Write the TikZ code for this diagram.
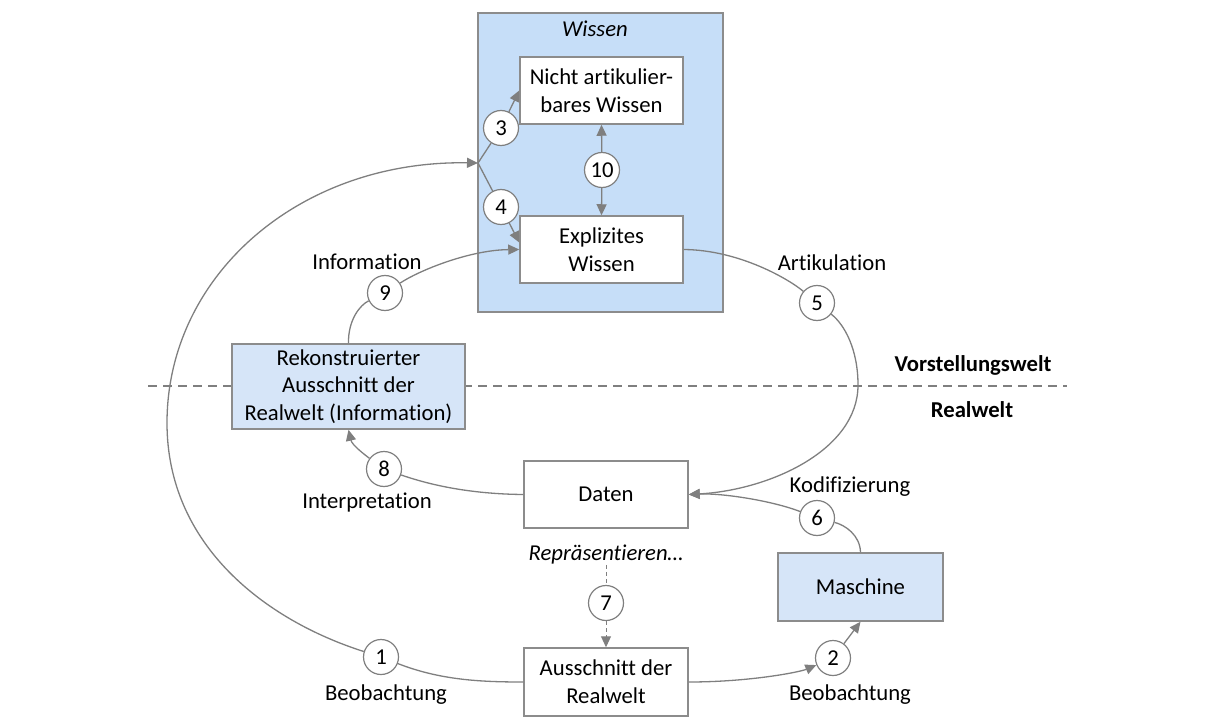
\documentclass[tikz,border=0pt]{standalone}
\usepackage{fontspec}
\setmainfont{Carlito}[Ligatures={NoCommon}]
\usetikzlibrary{arrows.meta}
\definecolor{linegray}{HTML}{7F7F7F}
\definecolor{boxgray}{HTML}{8C8C8C}
\definecolor{wissenblue}{HTML}{C6DEF8}
\definecolor{paleblue}{HTML}{D6E5F8}
\begin{document}
\begin{tikzpicture}[x=1pt,y=-1pt,
  every node/.style={font=\fontsize{22.7}{27.7}\selectfont, inner sep=0pt},
  box/.style={draw=boxgray, line width=1.5pt, fill=white, minimum width=163pt, minimum height=67pt, align=center},
  bluebox/.style={box, fill=paleblue},
  num/.style={circle, draw=linegray, line width=1.2pt, fill=white, minimum size=35pt},
  conn/.style={draw=linegray, line width=1.3pt},
  arr/.style={conn, -{Triangle[length=11pt,width=10pt]}},
  lbl/.style={align=center},
  divider/.style={draw=linegray, line width=1.3pt, dash pattern=on 9pt off 6pt},
  dotted link/.style={dash pattern=on 4pt off 3pt, line width=1pt}
]
\useasboundingbox (0,0) rectangle (1215,722);

% knowledge container
\node[draw=boxgray, line width=1.5pt, fill=wissenblue, minimum width=245pt, minimum height=299pt] (wissen) at (600.5,162.5) {};
\node[lbl, font=\fontsize{22.7}{27.7}\selectfont\itshape] (wlabel) at (595,29) {Wissen};

% border between the two worlds
\coordinate (dl) at (148,386);
\coordinate (dr) at (1067,386);
\draw[divider] (dl) -- (dr);
\node[lbl, font=\fontsize{22.7}{27.7}\selectfont\bfseries] (vw) at (973,365) {Vorstellungswelt};
\node[lbl, font=\fontsize{22.7}{27.7}\selectfont\bfseries] (rw) at (972,410) {Realwelt};

% boxes
\node[box] (nicht) at (601.5,90.5) {Nicht artikulier-\\bares Wissen};
\node[box] (expl) at (601.5,249.5) {Explizites\\Wissen};
\node[bluebox, minimum width=233pt, minimum height=85pt] (rek) at (348.5,386.5) {Rekonstruierter\\Ausschnitt der\\Realwelt (Information)};
\node[box, minimum width=164pt] (daten) at (606,494.5) {Daten};
\node[box, minimum width=164pt, minimum height=68pt] (aus) at (606,682) {Ausschnitt der\\Realwelt};
\node[bluebox, minimum width=165pt, minimum height=68pt] (maschine) at (860.5,587) {Maschine};

% labels
\node[lbl] (linfo) at (367,262) {Information};
\node[lbl] (lart) at (832,263) {Artikulation};
\node[lbl] (linterp) at (367,503) {Interpretation};
\node[lbl] (lkod) at (850,487) {Kodifizierung};
\node[lbl, font=\fontsize{22.7}{27.7}\selectfont\itshape] (rep) at (606,555) {Repräsentieren…};
\node[lbl] (lbeo1) at (386,695) {Beobachtung};
\node[lbl] (lbeo2) at (850,695) {Beobachtung};

% numbered steps
\node[num] (c1) at (381,657) {1};
\node[num] (c2) at (833,658) {2};
\node[num] (c3) at (501,128) {3};
\node[num] (c4) at (501,207) {4};
\node[num] (c5) at (817,303) {5};
\node[num] (c6) at (817,518) {6};
\node[num] (c7) at (606,603) {7};
\node[num] (c8) at (384,469) {8};
\node[num] (c9) at (385,293) {9};
\node[num] (c10) at (602,170) {10};

\coordinate (j) at (478,163);

% observation loop
\draw[arr] (c1) .. controls (265,620) and (167,545) .. (167,423) .. controls (167,275) and (300,160) .. (j);
\draw[conn] (c1) .. controls (440,680) and (480,682) .. (aus.west);
\draw[conn] (j) -- (c3);
\draw[arr] (c3) -- (nicht.west);
\draw[conn] (j) -- (c4);
\draw[arr] (c4) -- ([yshift=7pt]expl.west);
\draw[arr] (c10) -- (nicht.south);
\draw[arr] (c10) -- (expl.north);

% machine path
\draw[arr] (aus.east) .. controls (750,682) and (800,672) .. (c2);
\draw[arr] (c2) -- (maschine.south);
\draw[conn] (maschine.north) .. controls (860,535) and (845,525) .. (c6);
\draw[arr] (c6) .. controls (770,500) and (720,493) .. (daten.east);

% articulation
\draw[conn] (expl.east) .. controls (740,250) and (790,280) .. (c5);
\draw[arr] (c5) .. controls (845,325) and (858,350) .. (858,385) .. controls (858,450) and (770,490) .. (daten.east);

% interpretation and information
\draw[conn] (daten.west) .. controls (470,494) and (430,485) .. (c8);
\draw[arr] (c8) .. controls (365,455) and (352,445) .. (rek.south);
\draw[conn] (rek.north) .. controls (348,320) and (360,305) .. (c9);
\draw[arr] (c9) .. controls (420,270) and (470,250) .. (expl.west);

% representation
\draw[conn, dotted link] (rep.south) -- (c7);
\draw[arr, dotted link] (c7) -- (aus.north);
\end{tikzpicture}
\end{document}
